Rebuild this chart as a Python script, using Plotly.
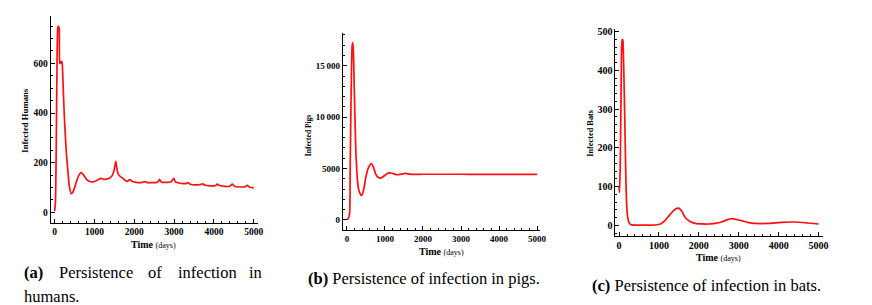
import plotly.graph_objects as go

W, H = 872, 305

# ---------------- data ----------------
t_humans = [0, 20, 40, 60, 80, 95, 115, 130, 145, 165, 185, 200, 220, 250, 290, 332, 370, 415, 470, 540,
            610, 665, 720, 800, 870, 950, 1000, 1080, 1163, 1230, 1287, 1380, 1453, 1500, 1537, 1570, 1603,
            1703, 1790, 1827, 1885, 1952, 2050, 2118, 2200, 2260, 2325, 2450, 2533, 2600, 2633, 2670, 2699,
            2800, 2907, 2960, 2990, 3030, 3073, 3239, 3310, 3347, 3405, 3613, 3690, 3721, 3779, 4028, 4060,
            4086, 4153, 4402, 4440, 4460, 4527, 4776, 4810, 4834, 4900, 5000]
infected_humans = [5, 40, 260, 600, 745, 750, 740, 600, 600, 608, 605, 570, 480, 365, 250, 167, 105, 75, 85, 120,
                   150, 160, 152, 133, 125, 122, 124, 130, 137, 133, 133, 138, 150, 175, 205, 170, 152,
                   138, 127, 125, 132, 124, 121, 120, 121, 124, 120, 120, 120, 124, 133, 124, 121,
                   121, 122, 130, 137, 124, 120, 116, 117, 120, 113, 111, 113, 115, 109, 107, 110,
                   114, 107, 105, 112, 114, 104, 103, 107, 109, 101, 99]

t_pigs = [0, 35, 70, 87, 105, 122, 140, 157, 175, 192, 215, 235, 258, 279, 320, 383, 440, 497, 570, 645, 700,
          758, 820, 889, 950, 1019, 1080, 1132, 1200, 1324, 1430, 1542, 1650, 1760, 2000, 2500, 3000, 3500,
          4000, 4500, 5000]
infected_pigs = [30, 100, 580, 5100, 10500, 14780, 17000, 17250, 16000, 13160, 9500, 6710, 5000, 3800, 2800,
                 2355, 2900, 4130, 5100, 5480, 5100, 4450, 4150, 4065, 4200, 4390, 4550, 4580, 4520, 4390,
                 4450, 4520, 4450, 4420, 4440, 4440, 4440, 4430, 4430, 4420, 4420]

t_bats = [0, 12, 30, 50, 65, 80, 95, 110, 130, 150, 166, 185, 207, 240, 290, 400, 600, 800, 950, 1050, 1150,
          1285, 1400, 1500, 1580, 1658, 1780, 1907, 2100, 2239, 2400, 2570, 2700, 2819, 2950, 3068, 3250,
          3400, 3731, 4063, 4395, 4726, 5000]
infected_bats = [100, 85, 150, 330, 460, 480, 478, 440, 350, 240, 148, 70, 29, 10, 2, 0.5, 0.3, 0.5, 1.5, 4, 12,
                 29, 41, 44, 35, 20, 10, 5, 3.5, 3.4, 5, 8.5, 14, 17, 15, 12, 7,
                 5, 5, 7.7, 8.5, 6, 3.4]

x_ticks = [0, 1000, 2000, 3000, 4000, 5000]
x_tick_labels = ["0", "1000", "2000", "3000", "4000", "5000"]
humans_ticks = [0, 200, 400, 600]
humans_tick_labels = ["0", "200", "400", "600"]
pigs_ticks = [0, 5000, 10000, 15000]
pigs_tick_labels = ["0", "5000", "10\u2009000", "15\u2009000"]
bats_ticks = [0, 100, 200, 300, 400, 500]
bats_tick_labels = ["0", "100", "200", "300", "400", "500"]

y_titles = ["Infected Humans", "Infected Pigs", "Infected Bats"]
x_title = "<b>Time</b> <span style='font-size:8px'>(days)</span>"

# ---------------- layout helpers ----------------
def px(x):
    return x / W

def py(y):
    return 1 - y / H

SERIF = "'Liberation Serif', 'Times New Roman', Times, serif"
RED = "#ff1010"

def bold(lbls):
    return ["<b>%s</b>" % s for s in lbls]

# plot area pixel boxes (left, right, top, bottom)
boxes = [(51, 260, 14, 222), (345.3, 544, 31.7, 230), (619.7, 828.3, 26.7, 235.7)]
xranges = [[-100, 5112], [-104, 5083], [-90, 5100]]
yranges = [[-41, 791], [-1035, 18143], [-28, 508]]
ymin_dt = [50, 1000, 20]
tick_sizes = [9.5, 9, 10]
ytitle_sizes = [8.7, 7.5, 8.3]

fig = go.Figure()
series = [(t_humans, infected_humans), (t_pigs, infected_pigs), (t_bats, infected_bats)]
for i, (tx, vy) in enumerate(series):
    suf = "" if i == 0 else str(i + 1)
    fig.add_trace(go.Scatter(x=tx, y=vy, mode="lines",
                             line=dict(color=RED, width=1.7, shape="spline", smoothing=0.6),
                             xaxis="x" + suf, yaxis="y" + suf, showlegend=False, hoverinfo="skip"))

layout = dict(width=W, height=H, margin=dict(l=0, r=0, t=0, b=0),
              font=dict(family=SERIF, color="black"),
              paper_bgcolor="white", plot_bgcolor="white", showlegend=False)

y_tick_sets = [(humans_ticks, humans_tick_labels), (pigs_ticks, pigs_tick_labels),
               (bats_ticks, bats_tick_labels)]
for i in range(3):
    l, r, t, b = boxes[i]
    suf = "" if i == 0 else str(i + 1)
    ax_common = dict(showline=True, linecolor="black", linewidth=1, showgrid=False, zeroline=False,
                     ticks="inside", ticklen=4, tickwidth=1, tickcolor="black",
                     tickfont=dict(family=SERIF, size=tick_sizes[i], color="black"))
    xa = dict(ax_common, domain=[px(l), px(r)], range=xranges[i], tickmode="array", tickvals=x_ticks,
              ticktext=bold(x_tick_labels), anchor="y" + suf,
              minor=dict(tickmode="linear", tick0=0, dtick=200, ticks="inside", ticklen=2,
                         tickcolor="black", showgrid=False))
    yv, yt = y_tick_sets[i]
    ya = dict(ax_common, domain=[py(b), py(t)], range=yranges[i], tickmode="array", tickvals=yv,
              ticktext=bold(yt), anchor="x" + suf,
              minor=dict(tickmode="linear", tick0=0, dtick=ymin_dt[i], ticks="inside", ticklen=2,
                         tickcolor="black", showgrid=False))
    layout["xaxis" + suf] = xa
    layout["yaxis" + suf] = ya

fig.update_layout(**layout)

ann = []
# axis titles
ytitle_pos = [(25, 118.7), (310.7, 134.5), (595, 131.7)]
xtitle_pos = [(155, 244), (444.3, 250.7), (723.3, 257.3)]
for i in range(3):
    xx, yy = ytitle_pos[i]
    ann.append(dict(x=px(xx), y=py(yy), xref="paper", yref="paper", text="<b>%s</b>" % y_titles[i],
                    textangle=-90, showarrow=False, xanchor="center", yanchor="middle",
                    font=dict(family=SERIF, size=ytitle_sizes[i], color="black")))
    xx, yy = xtitle_pos[i]
    ann.append(dict(x=px(xx), y=py(yy), xref="paper", yref="paper", text=x_title,
                    showarrow=False, xanchor="center", yanchor="middle",
                    font=dict(family=SERIF, size=10, color="black")))

# caption (a): justified text, two lines
cap_a_words = ["<b>(a)</b>", "Persistence", "of", "infection", "in"]
cap_a_x = [21.7, 57, 147, 177, 249]
for wd, xx in zip(cap_a_words, cap_a_x):
    ann.append(dict(x=px(xx), y=py(272), xref="paper", yref="paper", text=wd, showarrow=False,
                    xanchor="left", yanchor="middle", font=dict(family=SERIF, size=16.5, color="black")))
ann.append(dict(x=px(21.7), y=py(296), xref="paper", yref="paper", text="humans.", showarrow=False,
                xanchor="left", yanchor="middle", font=dict(family=SERIF, size=16.5, color="black")))
ann.append(dict(x=px(427), y=py(278), xref="paper", yref="paper",
                text="<b>(b)</b> Persistence of infection in pigs.", showarrow=False,
                xanchor="center", yanchor="middle", font=dict(family=SERIF, size=16.5, color="black")))
ann.append(dict(x=px(711.7), y=py(285), xref="paper", yref="paper",
                text="<b>(c)</b> Persistence of infection in bats.", showarrow=False,
                xanchor="center", yanchor="middle", font=dict(family=SERIF, size=16.5, color="black")))

fig.update_layout(annotations=ann)
fig.write_html("out.html", config={"displayModeBar": False},
               post_script="document.body.style.margin='0';document.body.style.padding='0';")
